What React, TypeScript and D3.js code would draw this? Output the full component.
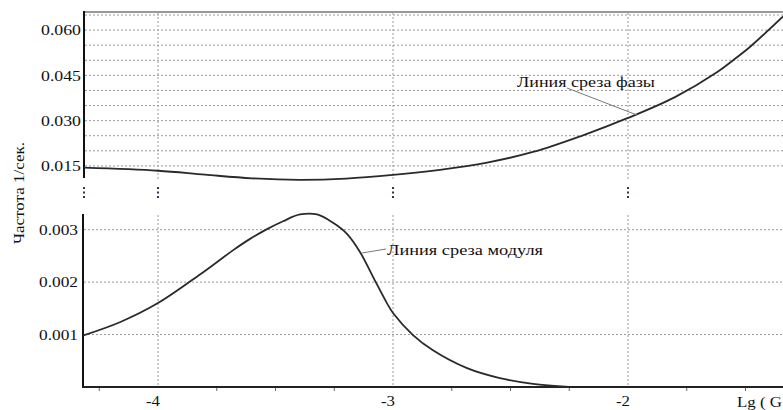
import React from "react";
import * as d3 from "d3";

const phaseLg = [-4.315, -4.0, -3.8, -3.6, -3.4, -3.2, -3.0, -2.8, -2.6, -2.4, -2.2, -2.0, -1.8, -1.62, -1.55, -1.48, -1.34];
const phaseVal = [0.0144, 0.0134, 0.0121, 0.0109, 0.0104, 0.0108, 0.0120, 0.0137, 0.0161, 0.0197, 0.0249, 0.0309, 0.0378, 0.0461, 0.0502, 0.0545, 0.0645];

const modLg = [-4.32, -4.16, -4.0, -3.82, -3.68, -3.61, -3.536, -3.468, -3.396, -3.323, -3.255, -3.196, -3.14, -3.085, -3.026, -3.0, -2.915, -2.83, -2.685, -2.545, -2.404, -2.25];
const modVal = [0.00098, 0.00124, 0.0016, 0.00215, 0.00261, 0.00282, 0.00301, 0.00316, 0.00329, 0.00329, 0.00313, 0.00292, 0.00257, 0.0021, 0.0016, 0.00141, 0.00099, 0.0007, 0.00036, 0.00017, 0.00006, 0.0];

const topTicks = [0.015, 0.030, 0.045, 0.060];
const topGrid = [0.015, 0.020, 0.025, 0.030, 0.035, 0.040, 0.045, 0.050, 0.055, 0.060, 0.065];
const botTicks = [0.001, 0.002, 0.003];
const xTicks = [-4, -3, -2];
const xMinor = [-4.25, -3.75, -3.5, -3.25, -2.75, -2.5, -2.25, -1.75, -1.5];

const yTitle = "Частота  1/сек.";
const xTitle = "Lg ( G";
const phaseLabel = "Линия среза фазы";
const modLabel = "Линия среза модуля";

export default function App() {
  const W = 783, H = 410;
  const x = d3.scaleLinear().domain([-4.315, -1.3404]).range([84, 783]);
  const yT = d3.scaleLinear().domain([0.010, 0.066]).range([181, 12]);
  const yB = d3.scaleLinear().domain([0, 0.00328]).range([387, 215]);

  const phaseLine = d3.line<number>().x((_, i) => x(phaseLg[i])).y((d) => yT(d)).curve(d3.curveCatmullRom.alpha(0.5));
  const modLine = d3.line<number>().x((_, i) => x(modLg[i])).y((d) => yB(d)).curve(d3.curveCatmullRom.alpha(0.5));

  const serif = "'Liberation Serif', 'DejaVu Serif', serif";
  const grid = "#9a9a9a";
  const dots = [84, ...xTicks.map((t) => x(t))];
  const ts = { fontFamily: serif };

  return (
    <svg width={W} height={H} style={{ position: "absolute", left: 0, top: 0, background: "#fff", fontFamily: serif }}>
      {topGrid.map((v) => (
        <line key={"tg" + v} x1={85} x2={W} y1={yT(v)} y2={yT(v)} stroke={grid} strokeWidth={1} strokeDasharray="2,2" />
      ))}
      {xTicks.map((t) => (
        <line key={"tv" + t} x1={x(t)} x2={x(t)} y1={13} y2={179} stroke={grid} strokeWidth={1} strokeDasharray="2,2" />
      ))}
      <line x1={84} x2={W} y1={12} y2={12} stroke="#999" strokeWidth={2} />
      <line x1={84} x2={84} y1={11} y2={178} stroke="#111" strokeWidth={2} />
      {topTicks.map((v) => (
        <text key={"tt" + v} x={41} y={yT(v)} dy="0.35em" fontSize={15} fill="#111" style={ts}
          textLength={40} lengthAdjust="spacingAndGlyphs">
          {v.toFixed(3)}
        </text>
      ))}
      <path d={phaseLine(phaseVal) || ""} fill="none" stroke="#2a2a2a" strokeWidth={1.8} />

      {dots.map((dx, i) =>
        [188, 192.5, 197].map((dy) => (
          <rect key={"d" + i + dy} x={dx - 1} y={dy - 1} width={2} height={2} fill="#2b3550" />
        ))
      )}

      {botTicks.map((v) => (
        <line key={"bg" + v} x1={84} x2={W} y1={yB(v)} y2={yB(v)} stroke={grid} strokeWidth={1} strokeDasharray="2,2" />
      ))}
      {xTicks.map((t) => (
        <line key={"bv" + t} x1={x(t)} x2={x(t)} y1={215} y2={386} stroke={grid} strokeWidth={1} strokeDasharray="2,2" />
      ))}
      <line x1={83} x2={83} y1={214} y2={388} stroke="#111" strokeWidth={2} />
      <line x1={82} x2={W} y1={387} y2={387} stroke="#222" strokeWidth={2} />
      {xMinor.map((t) => (
        <line key={"xm" + t} x1={x(t)} x2={x(t)} y1={388} y2={391} stroke="#666" strokeWidth={1} />
      ))}
      {botTicks.map((v) => (
        <text key={"bt" + v} x={39} y={yB(v)} dy="0.35em" fontSize={15} fill="#111" style={ts}
          textLength={39} lengthAdjust="spacingAndGlyphs">
          {v.toFixed(3)}
        </text>
      ))}
      {xTicks.map((t) => (
        <text key={"xt" + t} x={x(t) - 12} y={406} fontSize={14} fill="#111" style={ts}
          textLength={14} lengthAdjust="spacingAndGlyphs">
          {t}
        </text>
      ))}
      <text x={737} y={407} fontSize={15} fill="#111" style={ts} textLength={45} lengthAdjust="spacingAndGlyphs">{xTitle}</text>
      <path d={modLine(modVal) || ""} fill="none" stroke="#2a2a2a" strokeWidth={1.8} />

      <text transform="translate(24,193) rotate(-90)" textAnchor="middle" fontSize={15} fill="#111" style={ts}
        textLength={102} lengthAdjust="spacingAndGlyphs">{yTitle}</text>

      <line x1={567} y1={88} x2={637} y2={115} stroke="#777" strokeWidth={1} />
      <text x={517} y={87} fontSize={15.5} fill="#111" style={ts} textLength={138} lengthAdjust="spacingAndGlyphs">{phaseLabel}</text>
      <line x1={362} y1={253} x2={386} y2={249} stroke="#777" strokeWidth={1} />
      <text x={387} y={255} fontSize={15.5} fill="#111" style={ts} textLength={156} lengthAdjust="spacingAndGlyphs">{modLabel}</text>
    </svg>
  );
}
